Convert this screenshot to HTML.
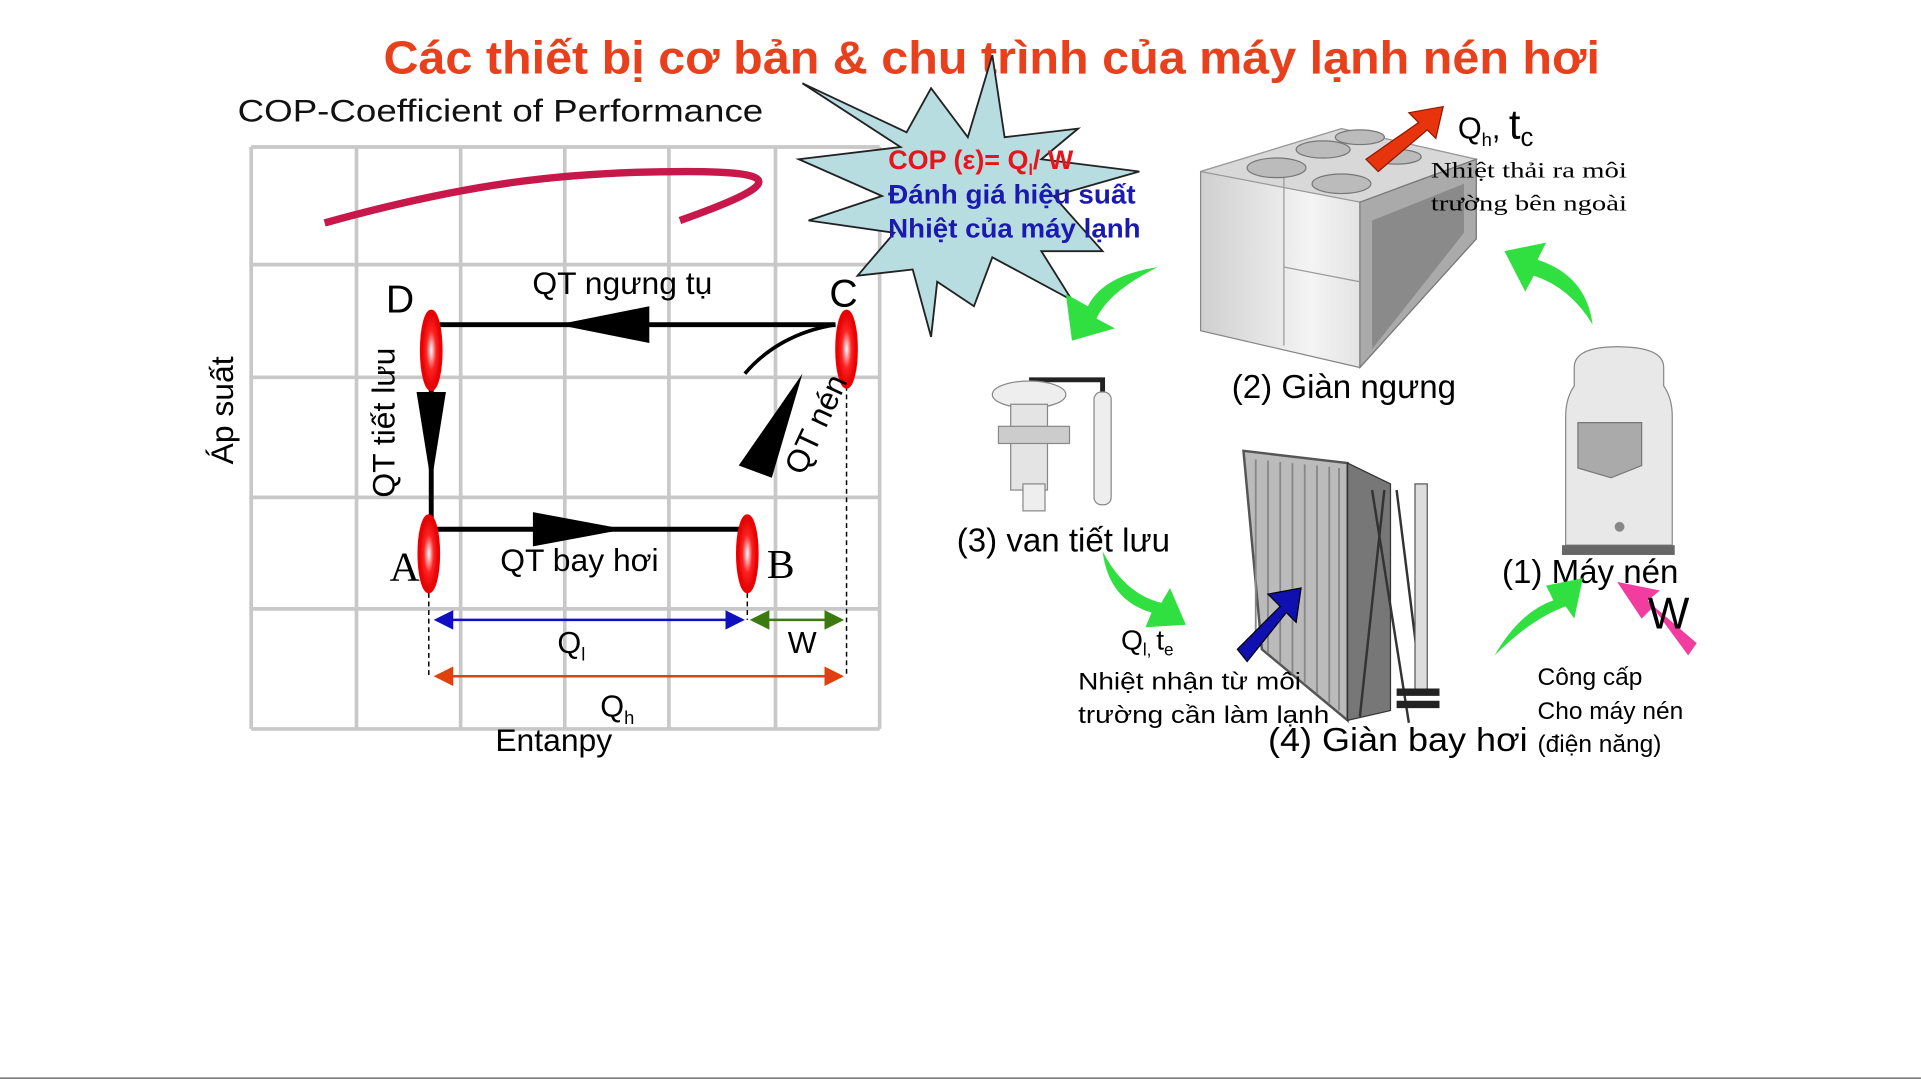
<!DOCTYPE html>
<html><head><meta charset="utf-8"><style>
html,body{margin:0;padding:0;background:#fff;width:1921px;height:1081px;overflow:hidden}
svg{display:block}
text{font-family:"Liberation Sans",sans-serif}
.s{font-family:"Liberation Serif",serif}
</style></head><body>
<svg width="1921" height="1081" viewBox="0 0 1921 1081" xmlns="http://www.w3.org/2000/svg">
<defs>
<marker id="mb" markerWidth="8" markerHeight="8" refX="7" refY="4" orient="auto-start-reverse"><path d="M0,0 L8,4 L0,8 Z" fill="#1010c0"/></marker>
<marker id="mg" markerWidth="8" markerHeight="8" refX="7" refY="4" orient="auto-start-reverse"><path d="M0,0 L8,4 L0,8 Z" fill="#3a7a10"/></marker>
<marker id="mo" markerWidth="8" markerHeight="8" refX="7" refY="4" orient="auto-start-reverse"><path d="M0,0 L8,4 L0,8 Z" fill="#e0400a"/></marker>
<radialGradient id="rg" cx="50%" cy="50%" r="50%"><stop offset="0" stop-color="#fff"/><stop offset=".5" stop-color="#f22"/><stop offset="1" stop-color="#d00"/></radialGradient>
<linearGradient id="box" x1="0" x2="1"><stop offset="0" stop-color="#cfcfcf"/><stop offset=".4" stop-color="#f4f4f4"/><stop offset="1" stop-color="#bbb"/></linearGradient>
</defs>
<g transform="scale(1.2251)">
<text x="313" y="60" font-size="38" font-weight="bold" fill="#e8401c" textLength="993" lengthAdjust="spacingAndGlyphs">Các thiết bị cơ bản  &amp; chu trình của máy lạnh nén hơi</text>
<text x="194" y="99" font-size="26" fill="#111" textLength="429" lengthAdjust="spacingAndGlyphs">COP-Coefficient of  Performance</text>
<!-- grid -->
<g stroke="#c8c8c8" stroke-width="3" fill="none">
<path d="M205,120V595M291,120V595M376,120V595M461,120V595M546,120V595M633,120V595M718,120V595"/>
<path d="M205,120H718M205,216H718M205,308H718M205,406H718M205,497H718M205,595H718"/>
</g>
<path d="M265,182 C380,150 460,140 560,140 C640,140 640,150 555,180" stroke="#c8174a" stroke-width="6" fill="none"/>
<!-- cycle -->
<g stroke="#000" stroke-width="4" fill="none">
<path d="M352,265H682M352,432H610M352,318V432"/>
<path d="M682,265 C650,270 625,285 608,305" stroke-width="3"/>
</g>
<path d="M455,265 L530,250 L530,280Z" fill="#000"/>
<path d="M435,418 L510,432 L435,446Z" fill="#000"/>
<path d="M340,320 L364,320 L352,395Z" fill="#000"/>
<path d="M603,380 L655,305 L630,390Z" fill="#000"/>
<g stroke="#000" stroke-width="1.2" stroke-dasharray="4,3">
<path d="M350,470V552M610,470V506M691,315V552"/>
</g>
<path d="M356,506H606" stroke="#1010c0" stroke-width="2" marker-start="url(#mb)" marker-end="url(#mb)"/>
<path d="M614,506H687" stroke="#3a7a10" stroke-width="2" marker-start="url(#mg)" marker-end="url(#mg)"/>
<path d="M356,552H687" stroke="#e0400a" stroke-width="2" marker-start="url(#mo)" marker-end="url(#mo)"/>
<g stroke="#e00" stroke-width="2.5" fill="url(#rg)">
<ellipse cx="352" cy="286" rx="8" ry="32"/>
<ellipse cx="691" cy="285" rx="8" ry="31"/>
<ellipse cx="350" cy="452" rx="8" ry="31"/>
<ellipse cx="610" cy="452" rx="8" ry="31"/>
</g>
<text x="315" y="255" font-size="32" fill="#000">D</text>
<text x="677" y="250" font-size="32" fill="#000">C</text>
<text x="318" y="474" font-size="34" class="s" fill="#000">A</text>
<text x="626" y="472" font-size="34" class="s" fill="#000">B</text>
<text x="508" y="240" font-size="26" text-anchor="middle">QT ngưng tụ</text>
<text x="473" y="466" font-size="26" text-anchor="middle">QT bay hơi</text>
<text transform="translate(322,345) rotate(-90)" font-size="26" text-anchor="middle">QT tiết lưu</text>
<text transform="translate(190,335) rotate(-90)" font-size="26" text-anchor="middle">Áp suất</text>
<text transform="translate(674,350) rotate(-65)" font-size="26" text-anchor="middle">QT nén</text>
<text x="455" y="533" font-size="25">Q<tspan font-size="15" dy="6">l</tspan></text>
<text x="643" y="533" font-size="25">W</text>
<text x="490" y="585" font-size="25">Q<tspan font-size="15" dy="6">h</tspan></text>
<text x="452" y="613" font-size="26" text-anchor="middle">Entanpy</text>
<!-- starburst -->
<path d="M655,68 L740,108 L760,72 L790,112 L810,45 L820,112 L880,105 L850,130 L930,140 L860,160 L900,205 L850,205 L875,245 L810,210 L795,250 L765,230 L760,275 L745,220 L700,225 L730,190 L660,180 L720,160 L652,130 L735,120 Z" fill="#b8dde0" stroke="#222" stroke-width="1.5"/>
<text x="725" y="138" font-size="22" font-weight="bold" fill="#e8141c">COP (ε)= Q<tspan font-size="13" dy="5">l</tspan><tspan dy="-5">/ W</tspan></text>
<text x="725" y="166" font-size="22" font-weight="bold" fill="#1a1ab0" textLength="202" lengthAdjust="spacingAndGlyphs">Đánh giá hiệu suất</text>
<text x="725" y="194" font-size="22" font-weight="bold" fill="#1a1ab0" textLength="206" lengthAdjust="spacingAndGlyphs">Nhiệt của máy lạnh</text>
<!-- condenser -->
<path d="M980,140 L1095,105 L1205,130 L1205,195 L1110,300 L980,270Z" fill="url(#box)" stroke="#888"/>
<path d="M980,140 L1095,105 L1205,130 L1110,165Z" fill="#d8d8d8" stroke="#999"/>
<path d="M1110,165 L1205,130 L1205,195 L1110,300Z" fill="#aaa" stroke="#777"/>
<path d="M1120,180 L1195,150 L1195,190 L1120,285Z" fill="#8a8a8a"/>
<path d="M1048,145 V282 M1048,218 L1110,230" stroke="#999" fill="none"/>
<g fill="#bbb" stroke="#777"><ellipse cx="1042" cy="137" rx="24" ry="8"/><ellipse cx="1095" cy="150" rx="24" ry="8"/><ellipse cx="1080" cy="122" rx="22" ry="7"/><ellipse cx="1110" cy="112" rx="20" ry="6"/><ellipse cx="1140" cy="128" rx="20" ry="6"/></g>
<path d="M1115,130 L1158,100 L1150,92 L1178,87 L1172,113 L1165,106 L1125,140Z" fill="#e8340c" stroke="#8a1a00"/>
<text x="1190" y="113" font-size="25">Q<tspan font-size="15" dy="6">h</tspan><tspan dy="-6">, </tspan><tspan font-size="34">t</tspan><tspan font-size="21" dy="6">c</tspan></text>
<text x="1168" y="145" font-size="18" class="s" textLength="160" lengthAdjust="spacingAndGlyphs">Nhiệt  thải ra môi</text>
<text x="1168" y="172" font-size="18" class="s" textLength="160" lengthAdjust="spacingAndGlyphs">trường bên  ngoài</text>
<text x="1097" y="325" font-size="27" text-anchor="middle">(2) Giàn ngưng</text>
<!-- valve -->
<path d="M840,310 H900 V330" stroke="#222" stroke-width="4" fill="none"/>
<rect x="893" y="320" width="14" height="92" rx="6" fill="#eee" stroke="#888"/>
<ellipse cx="840" cy="322" rx="30" ry="11" fill="#eee" stroke="#888"/>
<rect x="825" y="330" width="30" height="70" fill="#e4e4e4" stroke="#888"/>
<rect x="815" y="348" width="58" height="14" fill="#ccc" stroke="#888"/>
<rect x="835" y="395" width="18" height="22" fill="#eee" stroke="#888"/>
<text x="868" y="450" font-size="27" text-anchor="middle">(3) van tiết lưu</text>
<!-- evaporator -->
<path d="M1015,368 L1100,378 L1100,588 L1030,530Z" fill="#bbb" stroke="#555" stroke-width="2"/>
<g stroke="#888" stroke-width="1.5"><path d="M1025,375V525M1035,376V533M1045,377V541M1055,378V550M1065,379V558M1075,380V566M1085,381V574M1093,382V580"/></g>
<path d="M1100,378 L1135,395 L1135,580 L1100,588Z" fill="#777" stroke="#333"/>
<path d="M1120,400 L1150,590 M1130,400 L1110,585 M1140,400 L1160,560" stroke="#333" stroke-width="2"/>
<rect x="1155" y="395" width="10" height="170" fill="#ddd" stroke="#555"/>
<path d="M1140,565 h35 M1140,575 h35" stroke="#222" stroke-width="6"/>
<path d="M1010,530 L1045,495 L1035,485 L1062,480 L1058,508 L1050,500 L1018,540Z" fill="#1010b0" stroke="#000"/>
<text x="915" y="530" font-size="23">Q<tspan font-size="14" dy="5">l, </tspan><tspan dy="-5">t</tspan><tspan font-size="14" dy="5">e</tspan></text>
<text x="880" y="563" font-size="20" textLength="182" lengthAdjust="spacingAndGlyphs">Nhiệt nhận từ môi</text>
<text x="880" y="590" font-size="20" textLength="205" lengthAdjust="spacingAndGlyphs">trường cần làm lạnh</text>
<text x="1035" y="613" font-size="27" textLength="212" lengthAdjust="spacingAndGlyphs">(4) Giàn bay hơi</text>
<!-- compressor -->
<path d="M1285,300 Q1285,283 1320,283 Q1358,283 1358,300 V315 Q1365,325 1365,340 V445 H1278 V340 Q1278,325 1285,315Z" fill="#e8e8e8" stroke="#888"/>
<path d="M1288,345 H1340 V380 L1315,390 L1288,382Z" fill="#aaa" stroke="#777"/>
<rect x="1275" y="445" width="92" height="8" fill="#666"/>
<circle cx="1322" cy="430" r="4" fill="#888"/>
<text x="1298" y="476" font-size="27" text-anchor="middle">(1) Máy nén</text>
<path d="M1385,525 L1350,495 L1340,505 L1320,475 L1355,482 L1345,490 L1378,535Z" fill="#f23ca0"/>
<text x="1345" y="513" font-size="36">W</text>
<text x="1255" y="559" font-size="20">Công cấp</text>
<text x="1255" y="587" font-size="20">Cho máy nén</text>
<text x="1255" y="614" font-size="20">(điện năng)</text>
<!-- green arrows -->
<g fill="#30e040">
<path d="M945,218 Q900,225 888,250 L870,240 L875,278 L910,268 L895,260 Q905,238 945,218Z"/>
<path d="M1300,265 Q1295,225 1255,212 L1262,198 L1228,205 L1245,238 L1252,225 Q1282,235 1300,265Z"/>
<path d="M900,450 Q905,490 940,500 L935,512 L968,510 L955,480 L948,492 Q918,485 900,450Z"/>
<path d="M1220,535 Q1240,500 1268,490 L1262,478 L1292,472 L1285,505 L1278,495 Q1250,505 1220,535Z"/>
</g>
<path d="M0,880 H1568" stroke="#555" stroke-width="1"/>
</g>
</svg>
</body></html>
